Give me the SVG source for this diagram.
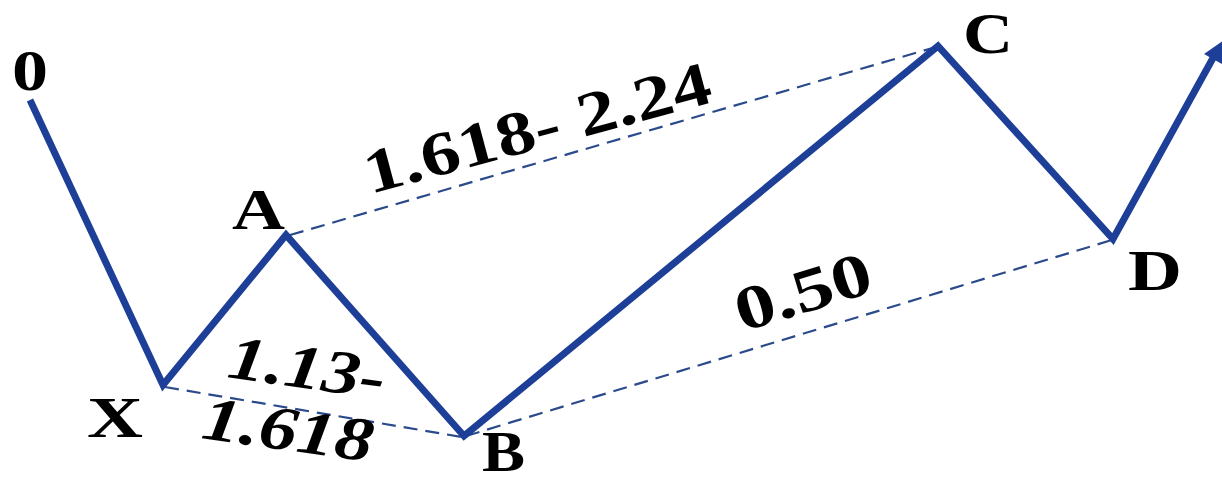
<svg xmlns="http://www.w3.org/2000/svg" width="1222" height="483" viewBox="0 0 1222 483">
<style>
.wave{fill:none;stroke:#1e3f98;stroke-width:7;stroke-linejoin:miter;stroke-linecap:butt}
.ratio{fill:none;stroke:#2a4a8c;stroke-width:2.2;stroke-dasharray:14 8}
.lbl{font-family:"Liberation Serif","Times New Roman",serif;font-weight:bold;font-size:56px;fill:#000}
.num{font-family:"Liberation Serif","Times New Roman",serif;font-weight:bold;font-size:62px;fill:#000}
.it{font-style:italic}
</style>
<rect width="1222" height="483" fill="#fff"/>
<g id="connectors">
<line class="ratio" x1="290" y1="235" x2="936" y2="47"/>
<line class="ratio" x1="165" y1="387" x2="462" y2="437"/>
<line class="ratio" x1="466" y1="436" x2="1112" y2="240"/>
<polyline class="wave" points="30,100 163,385 286,235 464,436 938,46 1113,239 1213,58"/>
<polygon points="1224,40 1222,64 1204,54" fill="#1e3f98"/>
</g>
<g id="node-0"><text class="lbl" x="12" y="90" textLength="36" lengthAdjust="spacingAndGlyphs">0</text></g>
<g id="node-X"><text class="lbl" x="87" y="437" textLength="56" lengthAdjust="spacingAndGlyphs">X</text></g>
<g id="node-A"><text class="lbl" x="232" y="229" textLength="53" lengthAdjust="spacingAndGlyphs">A</text></g>
<g id="node-B"><text class="lbl" x="482" y="471" textLength="43" lengthAdjust="spacingAndGlyphs">B</text></g>
<g id="node-C"><text class="lbl" x="963" y="53" textLength="50" lengthAdjust="spacingAndGlyphs">C</text></g>
<g id="node-D"><text class="lbl" x="1128" y="290" textLength="54" lengthAdjust="spacingAndGlyphs">D</text></g>
<g id="label-AC"><text class="num" transform="translate(370,194) rotate(-15)" textLength="357" lengthAdjust="spacingAndGlyphs">1.618- 2.24</text></g>
<g id="label-XB">
<text class="num it" transform="translate(226,377) rotate(8)" textLength="158" lengthAdjust="spacingAndGlyphs">1.13-</text>
<text class="num it" transform="translate(200,438) rotate(8)" textLength="172" lengthAdjust="spacingAndGlyphs">1.618</text>
</g>
<g id="label-BD"><text class="num" transform="translate(742,332) rotate(-17)" textLength="140" lengthAdjust="spacingAndGlyphs">0.50</text></g>
</svg>
